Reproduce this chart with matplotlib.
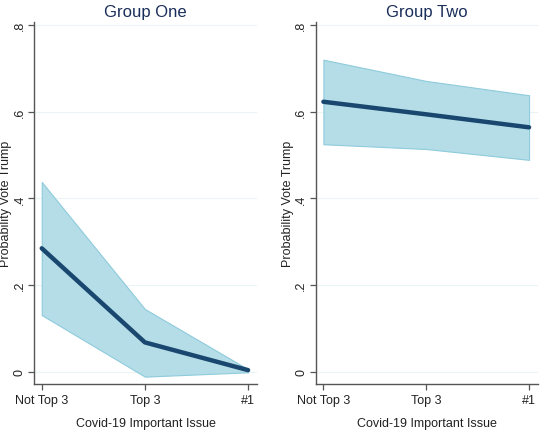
import matplotlib
matplotlib.use("Agg")
import matplotlib.pyplot as plt
import numpy as np

plt.rcParams['font.family'] = ['Liberation Sans', 'DejaVu Sans']

categories = ["Not Top 3", "Top 3", "#1"]
titles = ["Group One", "Group Two"]

# predicted probability and 95% CI, per group
g1_mean = [0.285, 0.068, 0.004]
g1_lo = [0.131, -0.011, -0.001]
g1_hi = [0.438, 0.145, 0.006]

g2_mean = [0.623, 0.594, 0.564]
g2_lo = [0.525, 0.514, 0.489]
g2_hi = [0.720, 0.671, 0.638]

yticks = [0, 0.2, 0.4, 0.6, 0.8]
ytick_labels = ["0", ".2", ".4", ".6", ".8"]

fill_col = "#b4dde7"
edge_col = "#8ecbdc"
line_col = "#1a476f"
title_col = "#1a2e5a"

fig = plt.figure(figsize=(5.4, 4.31), dpi=100)
ax1 = fig.add_axes([0.063, 0.1067, 0.413, 0.84])
ax2 = fig.add_axes([0.5846, 0.1067, 0.4117, 0.84])

groups = [(g1_mean, g1_lo, g1_hi), (g2_mean, g2_lo, g2_hi)]
x = np.arange(len(categories))

for ax, title, (m, lo, hi) in zip([ax1, ax2], titles, groups):
    ax.fill_between(x, lo, hi, facecolor=fill_col, edgecolor=edge_col, linewidth=0.8)
    ax.plot(x, m, color=line_col, linewidth=3.2, solid_capstyle='round')
    ax.set_xlim(-0.075, 2.087)
    ax.set_ylim(-0.028, 0.807)
    ax.set_yticks(yticks)
    ax.set_yticklabels(ytick_labels, rotation=90, va='center')
    ax.set_xticks(x)
    ax.set_xticklabels(categories)
    for yv in yticks:
        ax.axhline(yv, color="#eaf3f5", linewidth=0.8, zorder=0)
    for s in ["top", "right"]:
        ax.spines[s].set_visible(False)
    for s in ["left", "bottom"]:
        ax.spines[s].set_color("#555555")
        ax.spines[s].set_linewidth(1.0)
    ax.tick_params(axis='both', length=4, width=0.9, color="#555555",
                   labelsize=9, labelcolor="#222222")
    ax.tick_params(axis='y', pad=2)
    ax.tick_params(axis='x', pad=3)
    ax.set_title(title, color=title_col, fontsize=12, pad=4)
    ax.set_ylabel("Probability Vote Trump", fontsize=9, color="#222222", labelpad=1)
    ax.set_xlabel("Covid-19 Important Issue", fontsize=9, color="#222222", labelpad=8)

fig.savefig("out.png", dpi=100)
